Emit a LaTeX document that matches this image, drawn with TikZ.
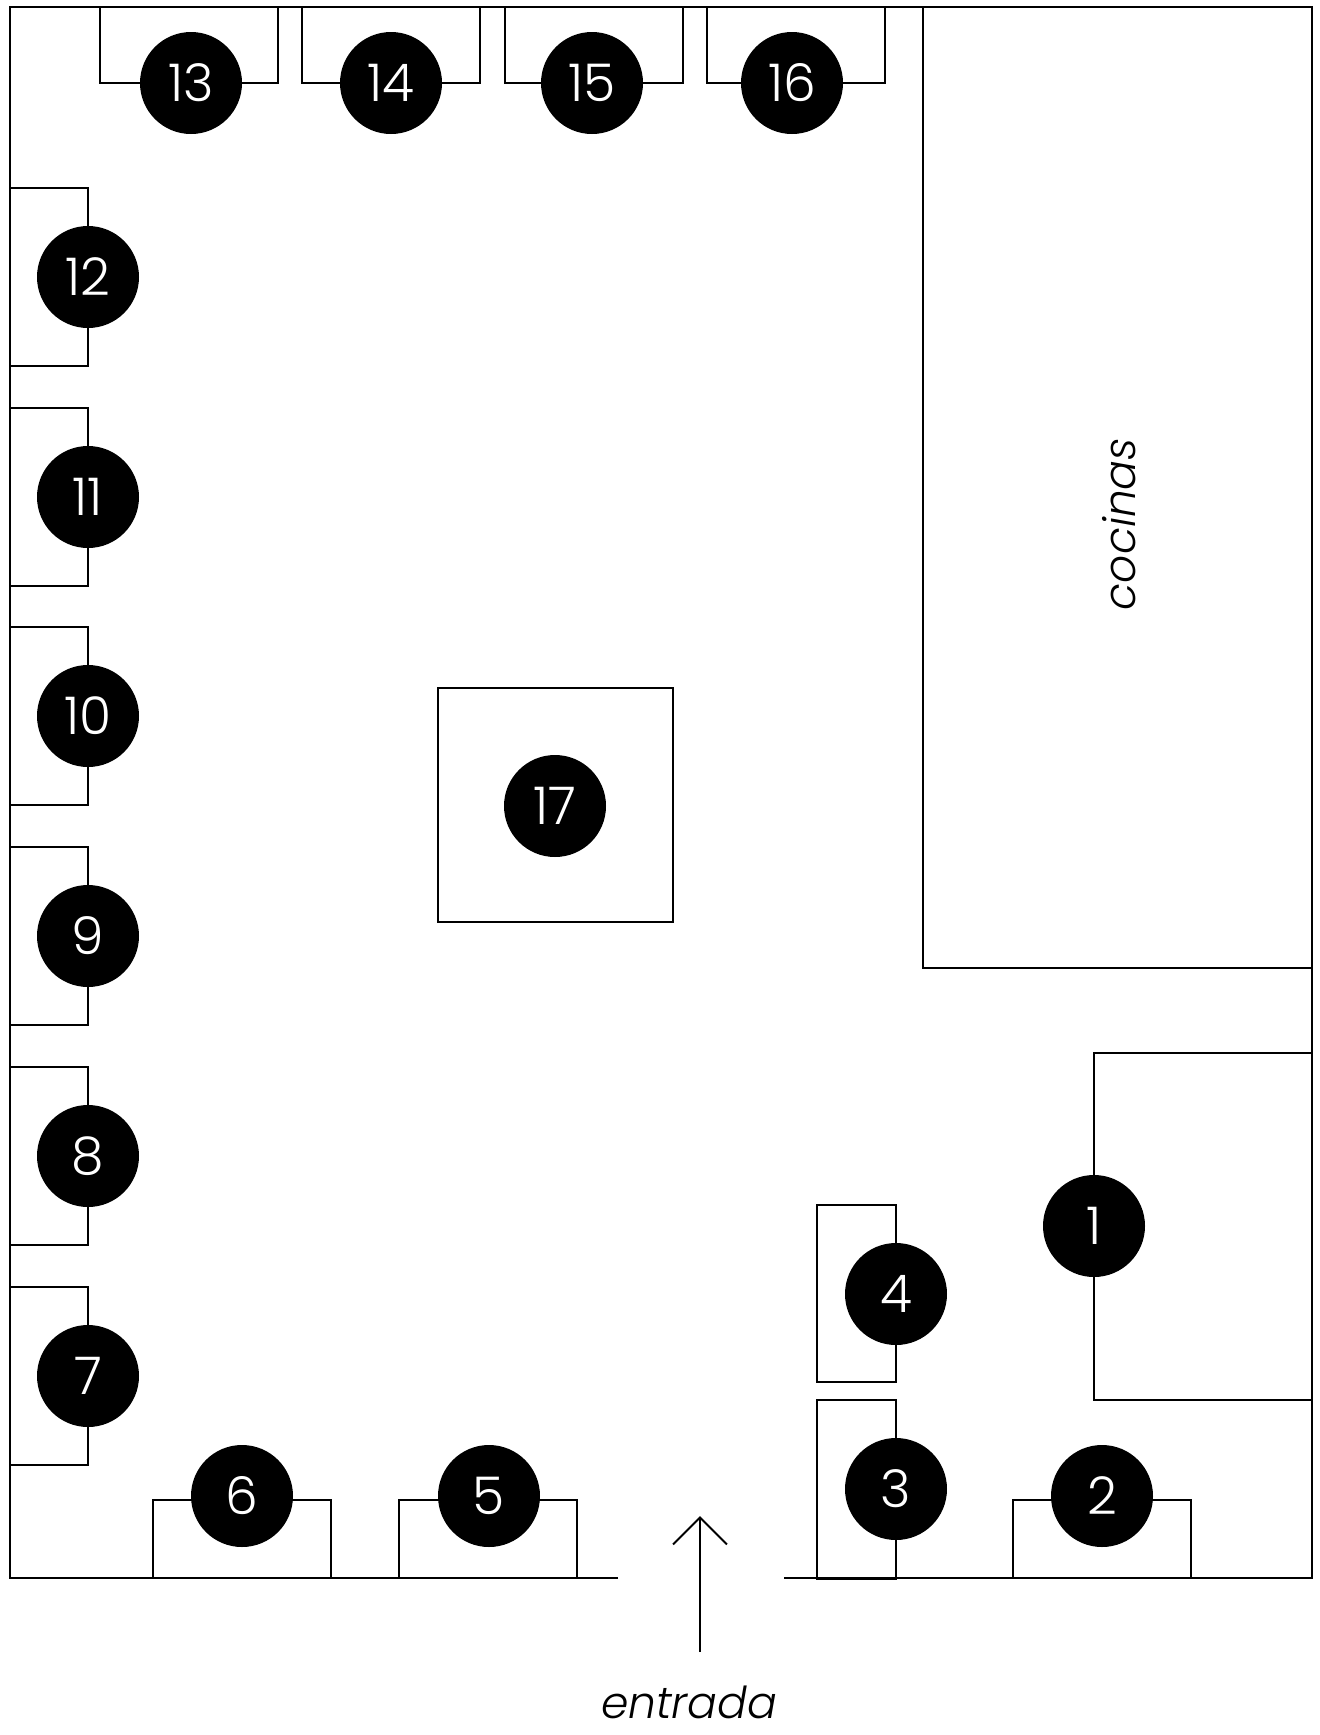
\documentclass[tikz,border=0pt]{standalone}
\usepackage{fontspec}
\setmainfont{Poppins}[UprightFont={* Light}, ItalicFont={* Light Italic}]
\usetikzlibrary{arrows.meta}

\begin{document}
\begin{tikzpicture}[x=0.5pt,y=-0.5pt]

	\tikzstyle wall=[line width=1pt];
	\tikzstyle tablebox=[line width=1pt];
	\tikzstyle seat=[circle,fill=black,minimum size=51pt,inner sep=0pt,text=white,font=\fontsize{26}{26}\selectfont];
	\tikzstyle label=[font=\fontsize{22}{22}\selectfont\itshape];

	\useasboundingbox (0,0) rectangle (1319,1735);

	% walls, door gap at the bottom
	\draw[wall] (618,1578) -- (10,1578) -- (10,7) -- (1312,7) -- (1312,1578) -- (784,1578);

	% kitchen
	\draw[tablebox] (923,7) rectangle (1312,968);
	\node[label,rotate=90] (cocinas) at (1119,524) {cocinas};

	% left wall
	\foreach \n/\y in {12/188,11/408,10/627,9/847,8/1067,7/1287} {
		\draw[tablebox] (10,\y) rectangle +(78,178);
		\node[seat] (t\n) at (88,\y+89) {\n};
	}

	% top wall
	\foreach \n/\x/\c in {13/100/191,14/302/391,15/505/592,16/707/792} {
		\draw[tablebox] (\x,7) rectangle +(178,76);
		\node[seat] (t\n) at (\c,83) {\n};
	}

	% bottom wall
	\foreach \n/\x/\c in {6/153/242,5/399/489,2/1013/1102} {
		\draw[tablebox] (\x,1500) rectangle +(178,78);
		\node[seat] (t\n) at (\c,1496) {\n};
	}

	\draw[tablebox] (1094,1053) rectangle (1312,1400);
	\node[seat] (t1) at (1094,1226) {1};

	\draw[tablebox] (817,1205) rectangle (896,1382);
	\node[seat] (t4) at (896,1294) {4};

	\draw[tablebox] (817,1400) rectangle (896,1579);
	\node[seat] (t3) at (896,1489) {3};

	\draw[tablebox] (438,688) rectangle (673,922);
	\node[seat] (t17) at (555,806) {17};

	% entrance
	\node[label,anchor=base,inner sep=0pt] (entrada) at (689,1718) {entrada};
	\coordinate (door) at (700,1652);
	\coordinate (inside) at (700,1516);
	\draw[wall,-{Straight Barb[length=13.5pt,width=27pt,line width=1pt]}] (door) -- (inside);

\end{tikzpicture}
\end{document}
